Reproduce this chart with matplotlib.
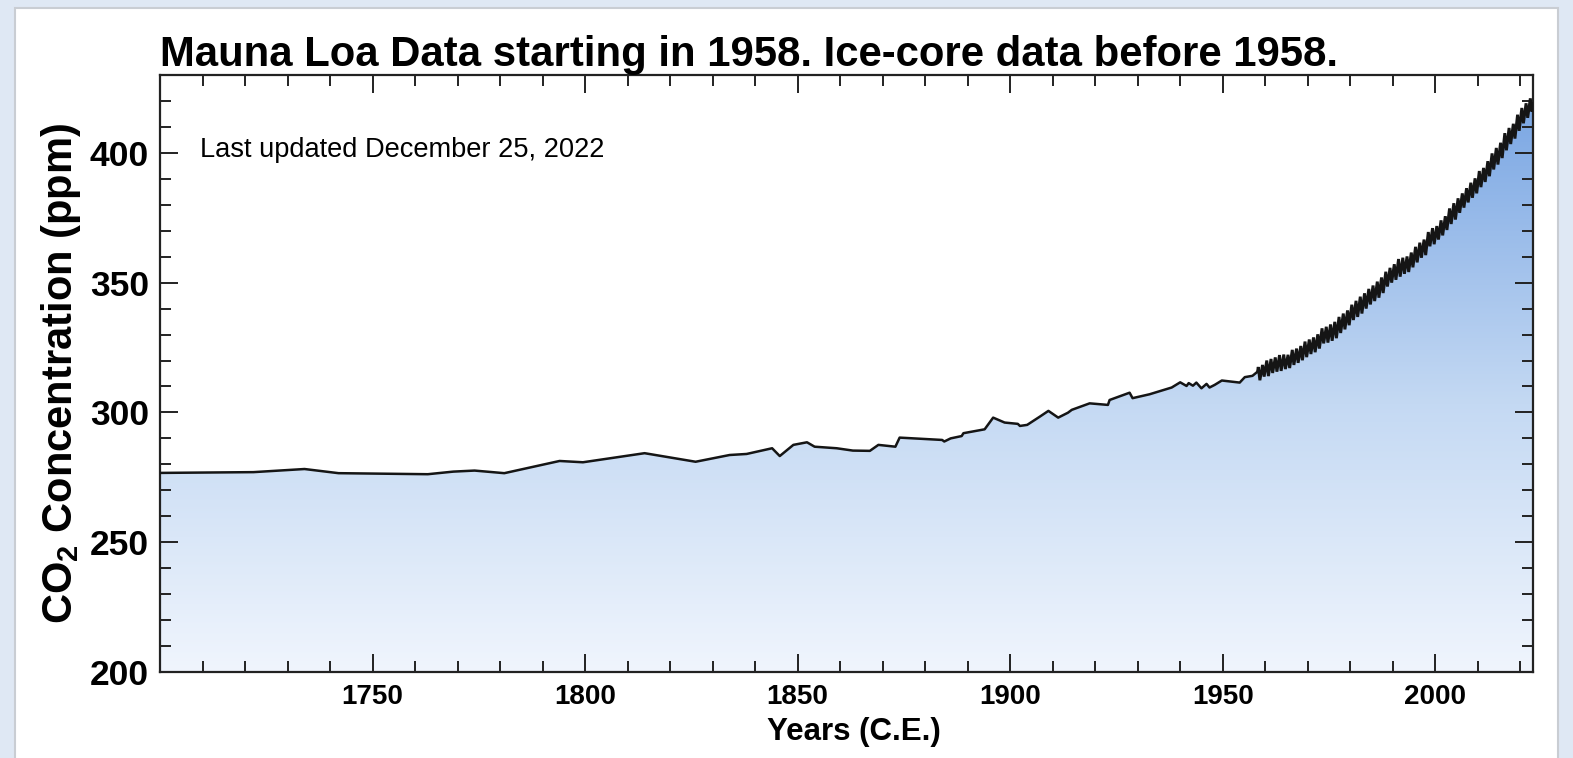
import numpy as np
import matplotlib
matplotlib.use("Agg")
import matplotlib.pyplot as plt
from matplotlib.colors import LinearSegmentedColormap
from matplotlib.patches import Polygon, Rectangle
from matplotlib.ticker import MultipleLocator

# ---------------- data ----------------
ice_years = [1700, 1722, 1734, 1742, 1763, 1769, 1774, 1781, 1794, 1799.5, 1814, 1826,
             1834, 1838, 1844, 1845.8, 1849, 1852.2, 1854, 1859.2, 1863, 1867, 1869,
             1873, 1874, 1884, 1884.5, 1886, 1888.6, 1889, 1894, 1896, 1898.7, 1901.8,
             1902.3, 1904, 1907, 1909, 1911.3, 1913.6, 1914.5, 1918.7, 1923, 1923.4,
             1928.1, 1928.8, 1932.8, 1938, 1940, 1941.5, 1942, 1943, 1943.8, 1945,
             1946.2, 1946.9, 1948.1, 1949.8, 1954, 1955.2, 1957]
ice_ppm = [276.7, 277.0, 278.2, 276.6, 276.2, 277.2, 277.6, 276.6, 281.3, 280.8, 284.3, 281.0,
           283.6, 284.0, 286.2, 283.2, 287.5, 288.5, 286.8, 286.2, 285.3, 285.2, 287.5,
           286.8, 290.3, 289.4, 288.8, 290.0, 290.9, 292.0, 293.5, 298.0, 296.1, 295.6,
           294.8, 295.2, 298.4, 300.6, 298.0, 299.9, 301.0, 303.5, 302.9, 304.8,
           307.6, 305.5, 307.0, 309.6, 311.6, 310.2, 311.3, 310.3, 311.5, 309.3,
           311.0, 309.6, 310.6, 312.3, 311.5, 313.6, 314.1]

mlo_years = list(range(1958, 2023))
mlo_may_peak = [317.5, 318.3, 320.0, 320.6, 321.2, 322.1, 322.3, 322.2, 324.1, 324.6,
                325.6, 327.3, 328.1, 328.9, 330.1, 332.4, 333.0, 333.9, 334.9, 336.8,
                338.1, 339.3, 341.5, 343.0, 344.6, 345.9, 347.6, 348.9, 350.4, 352.0,
                354.2, 355.7, 357.1, 359.1, 359.6, 360.1, 361.6, 363.8, 365.4, 366.6,
                369.5, 371.0, 371.8, 374.0, 375.6, 378.6, 380.6, 382.5, 384.4, 386.4,
                388.5, 390.2, 393.0, 394.2, 396.8, 399.8, 401.9, 403.9, 407.6, 409.6,
                411.2, 414.7, 417.3, 419.1, 421.0]
mlo_autumn_trough = [312.4, 313.8, 314.0, 315.2, 315.7, 316.0, 316.7, 317.1, 318.3, 319.1,
                     320.1, 321.3, 322.5, 323.2, 324.6, 326.6, 326.9, 327.6, 328.6, 330.6,
                     332.0, 333.6, 335.6, 336.8, 338.1, 340.0, 341.6, 342.9, 344.2, 346.0,
                     348.5, 350.0, 351.1, 352.3, 353.4, 354.1, 355.9, 357.8, 359.6, 360.6,
                     364.0, 364.8, 366.6, 368.2, 370.3, 372.6, 374.3, 376.9, 378.9, 380.9,
                     382.7, 384.4, 386.8, 388.8, 391.0, 393.6, 395.5, 398.0, 401.0, 403.4,
                     405.5, 408.5, 411.4, 413.5, 415.9]
mlo_start = (1958.2, 315.7)
mlo_end = (2022.96, 419.0)

title = "Mauna Loa Data starting in 1958. Ice-core data before 1958."
note = "Last updated December 25, 2022"
xlabel = "Years (C.E.)"
ylabel = r"CO$_\mathbf{2}$ Concentration (ppm)"
xticks = [1750, 1800, 1850, 1900, 1950, 2000]
yticks = [200, 250, 300, 350, 400]

# ---------------- build series ----------------
x = list(ice_years) + [mlo_start[0]]
y = list(ice_ppm) + [mlo_start[1]]
for yr, pk, tr in zip(mlo_years, mlo_may_peak, mlo_autumn_trough):
    x += [yr + 0.37, yr + 0.75]
    y += [pk, tr]
x.append(mlo_end[0]); y.append(mlo_end[1])
x = np.array(x); y = np.array(y)
n_ice = len(ice_years)

plt.rcParams['font.family'] = ['Liberation Sans', 'DejaVu Sans']
plt.rcParams['mathtext.fontset'] = 'custom'
plt.rcParams['mathtext.rm'] = 'Liberation Sans'
plt.rcParams['mathtext.bf'] = 'Liberation Sans:bold'

W, H = 1573, 758
fig = plt.figure(figsize=(W / 100, H / 100), dpi=100)
fig.patch.set_facecolor('#dfe8f4')
# white card
card = Rectangle((15 / W, -0.01), (1558 - 15) / W, (H - 8) / H + 0.01, transform=fig.transFigure,
                 facecolor='white', edgecolor='#c9cdd3', linewidth=1.5, zorder=-5)
fig.patches.append(card)

ax = fig.add_axes([160 / W, 1 - 672 / H, (1533 - 160) / W, (672 - 75) / H])
ax.set_zorder(2)
ax.patch.set_facecolor('white')
ax.set_xlim(1700, 2023)
ax.set_ylim(200, 430)

# gradient fill under curve
cmap = LinearSegmentedColormap.from_list(
    'co2', [(0.0, '#f0f5fd'), (0.45, '#c4d9f3'), (1.0, '#74a2e2')])
grad = np.linspace(0, 1, 256).reshape(-1, 1)
im = ax.imshow(grad, extent=[1700, 2023, 200, 430], origin='lower', aspect='auto',
               cmap=cmap, zorder=1)
verts = np.column_stack([np.r_[x[0], x, x[-1]], np.r_[200, y, 200]])
poly = Polygon(verts, closed=True, facecolor='none', edgecolor='none',
               transform=ax.transData)
ax.add_patch(poly)
im.set_clip_path(poly)

ax.plot(x[:n_ice + 1], y[:n_ice + 1], color='#151515', linewidth=1.8, zorder=3)
ax.plot(x[n_ice:], y[n_ice:], color='#151515', linewidth=2.1, zorder=3,
        solid_joinstyle='miter')

# ticks
ax.set_xticks(xticks)
ax.set_yticks(yticks)
ax.xaxis.set_minor_locator(MultipleLocator(10))
ax.yaxis.set_minor_locator(MultipleLocator(10))
ax.tick_params(which='both', direction='in', top=True, right=True, width=1.4, color='#222222')
ax.tick_params(which='major', length=13)
ax.tick_params(which='minor', length=8)
ax.tick_params(axis='x', which='major', labelsize=20, pad=9)
ax.tick_params(axis='y', which='major', labelsize=25.5, pad=8)
for lab in ax.get_xticklabels() + ax.get_yticklabels():
    lab.set_fontweight('bold')
for s in ax.spines.values():
    s.set_linewidth(1.6)
    s.set_color('#222222')

ax.set_xlabel(xlabel, fontsize=22.5, fontweight='bold', labelpad=5)
ax.xaxis.set_label_coords(0.5055, -0.075)
ax.set_ylabel(ylabel, fontsize=30, fontweight='bold', labelpad=5)

fig.text(160 / W, 1 - 66 / H, title, fontsize=30.2, fontweight='bold', ha='left',
         va='baseline')
ax.text(1709.5, 398.6, note, fontsize=19.6, ha='left', va='baseline', zorder=4)

fig.savefig('out.png', dpi=100, facecolor=fig.get_facecolor())
